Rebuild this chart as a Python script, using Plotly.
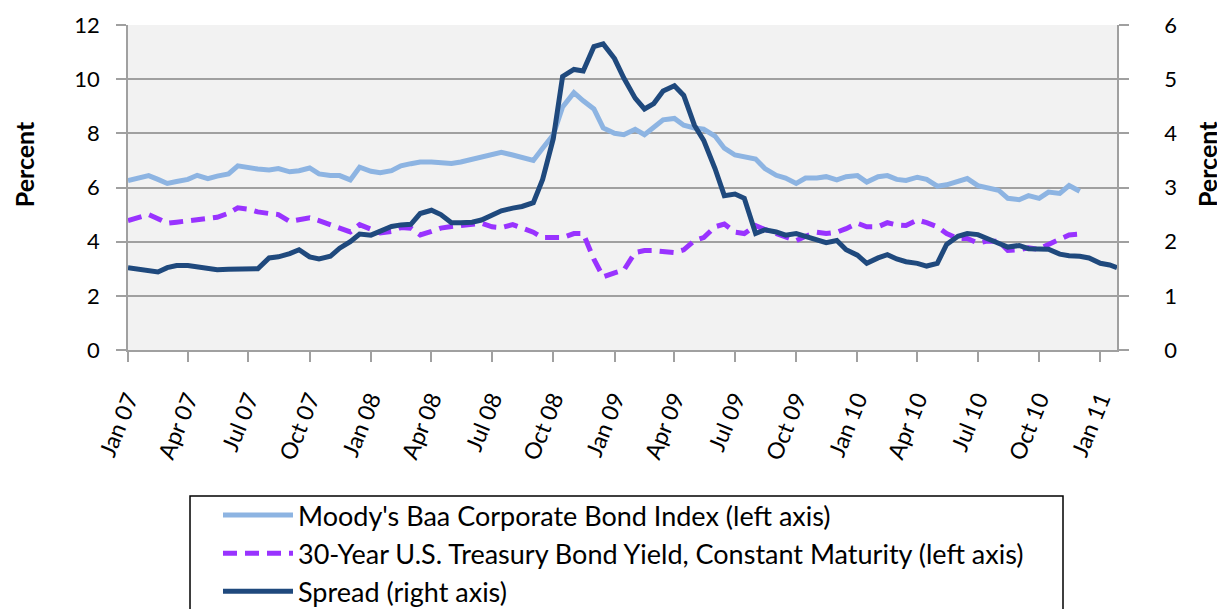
import plotly.graph_objects as go

# semi-monthly observation dates
dates = [
    "2007-01-01", "2007-01-15", "2007-02-01", "2007-02-15", "2007-03-01", "2007-03-15",
    "2007-04-01", "2007-04-15", "2007-05-01", "2007-05-15", "2007-06-01", "2007-06-15",
    "2007-07-01", "2007-07-15", "2007-08-01", "2007-08-15", "2007-09-01", "2007-09-15",
    "2007-10-01", "2007-10-15", "2007-11-01", "2007-11-15", "2007-12-01", "2007-12-15",
    "2008-01-01", "2008-01-15", "2008-02-01", "2008-02-15", "2008-03-01", "2008-03-15",
    "2008-04-01", "2008-04-15", "2008-05-01", "2008-05-15", "2008-06-01", "2008-06-15",
    "2008-07-01", "2008-07-15", "2008-08-01", "2008-08-15", "2008-09-01", "2008-09-15",
    "2008-10-01", "2008-10-15", "2008-11-01", "2008-11-15", "2008-12-01", "2008-12-15",
    "2009-01-01", "2009-01-15", "2009-02-01", "2009-02-15", "2009-03-01", "2009-03-15",
    "2009-04-01", "2009-04-15", "2009-05-01", "2009-05-15", "2009-06-01", "2009-06-15",
    "2009-07-01", "2009-07-15", "2009-08-01", "2009-08-15", "2009-09-01", "2009-09-15",
    "2009-10-01", "2009-10-15", "2009-11-01", "2009-11-15", "2009-12-01", "2009-12-15",
    "2010-01-01", "2010-01-15", "2010-02-01", "2010-02-15", "2010-03-01", "2010-03-15",
    "2010-04-01", "2010-04-15", "2010-05-01", "2010-05-15", "2010-06-01", "2010-06-15",
    "2010-07-01", "2010-07-15", "2010-08-01", "2010-08-15", "2010-09-01", "2010-09-15",
    "2010-10-01", "2010-10-15", "2010-11-01", "2010-11-15", "2010-12-01", "2010-12-15",
    "2011-01-01", "2011-01-15", "2011-01-26",
]

baa = [
    6.26, 6.35, 6.44, 6.30, 6.15, 6.22, 6.30, 6.45, 6.33, 6.42, 6.50, 6.80,
    6.72, 6.68, 6.65, 6.70, 6.58, 6.62, 6.72, 6.50, 6.44, 6.44, 6.28, 6.75,
    6.60, 6.55, 6.62, 6.80, 6.88, 6.94, 6.94, 6.90, 6.89, 6.94, 7.05, 7.12,
    7.20, 7.30, 7.20, 7.12, 7.00, 7.45, 7.95, 8.97, 9.50, 9.20, 8.90, 8.20,
    8.00, 7.95, 8.15, 7.95, 8.20, 8.50, 8.55, 8.30, 8.20, 8.15, 7.90, 7.45,
    7.20, 7.15, 7.05, 6.70, 6.45, 6.35, 6.15, 6.35, 6.35, 6.40, 6.28, 6.40,
    6.44, 6.20, 6.40, 6.44, 6.30, 6.26, 6.38, 6.30, 6.05, 6.10, 6.25, 6.33,
    6.07, 6.00, 5.90, 5.60, 5.55, 5.70, 5.60, 5.83, 5.78, 6.07, 5.86, None,
    None, None, None,
]

treasury = [
    4.78, 4.90, 5.00, 4.85, 4.68, 4.72, 4.78, 4.82, 4.85, 4.90, 5.05, 5.25,
    5.20, 5.10, 5.04, 5.00, 4.75, 4.82, 4.88, 4.78, 4.63, 4.50, 4.36, 4.63,
    4.45, 4.32, 4.38, 4.52, 4.50, 4.25, 4.38, 4.50, 4.56, 4.59, 4.65, 4.68,
    4.55, 4.52, 4.63, 4.50, 4.35, 4.15, 4.15, 4.15, 4.30, 4.30, 3.35, 2.70,
    2.85, 2.95, 3.60, 3.67, 3.67, 3.65, 3.60, 3.70, 4.04, 4.15, 4.55, 4.65,
    4.35, 4.30, 4.59, 4.45, 4.30, 4.18, 4.04, 4.20, 4.35, 4.30, 4.35, 4.48,
    4.68, 4.55, 4.55, 4.70, 4.62, 4.60, 4.80, 4.70, 4.55, 4.30, 4.12, 4.12,
    3.95, 4.02, 4.02, 3.68, 3.70, 3.77, 3.72, 3.90, 4.08, 4.25, 4.28, None,
    None, None, None,
]

spread = [
    1.52, 1.49, 1.47, 1.44, 1.52, 1.56, 1.56, 1.53, 1.51, 1.48, 1.49, 1.50,
    1.49, 1.50, 1.70, 1.72, 1.78, 1.85, 1.72, 1.68, 1.73, 1.88, 2.00, 2.14,
    2.12, 2.20, 2.28, 2.31, 2.32, 2.52, 2.58, 2.50, 2.35, 2.35, 2.36, 2.40,
    2.50, 2.57, 2.62, 2.65, 2.72, 3.15, 3.90, 5.05, 5.18, 5.15, 5.60, 5.65,
    5.38, 5.02, 4.65, 4.45, 4.55, 4.78, 4.88, 4.70, 4.15, 3.87, 3.35, 2.85,
    2.88, 2.80, 2.15, 2.22, 2.18, 2.12, 2.15, 2.10, 2.03, 1.98, 2.02, 1.85,
    1.75, 1.60, 1.70, 1.76, 1.68, 1.63, 1.60, 1.55, 1.60, 1.95, 2.10, 2.15,
    2.13, 2.05, 1.97, 1.90, 1.93, 1.87, 1.87, 1.86, 1.77, 1.74, 1.73, 1.70,
    1.60, 1.57, 1.52,
]

tick_dates = [
    "2007-01-01", "2007-04-01", "2007-07-01", "2007-10-01",
    "2008-01-01", "2008-04-01", "2008-07-01", "2008-10-01",
    "2009-01-01", "2009-04-01", "2009-07-01", "2009-10-01",
    "2010-01-01", "2010-04-01", "2010-07-01", "2010-10-01",
    "2011-01-01",
]
tick_labels = [
    "Jan 07", "Apr 07", "Jul 07", "Oct 07",
    "Jan 08", "Apr 08", "Jul 08", "Oct 08",
    "Jan 09", "Apr 09", "Jul 09", "Oct 09",
    "Jan 10", "Apr 10", "Jul 10", "Oct 10",
    "Jan 11",
]

FONT = "Lato"
GRID = "#A0A0A0"

fig = go.Figure()

fig.add_trace(go.Scatter(
    x=dates, y=baa, mode="lines", yaxis="y",
    name="Moody's Baa Corporate Bond Index (left axis)",
    legendgroup="a",
    line=dict(color="#8DB4E2", width=5),
))
fig.add_trace(go.Scatter(
    x=dates, y=treasury, mode="lines", yaxis="y",
    name="30-Year U.S. Treasury Bond Yield, Constant Maturity (left axis)",
    legendgroup="b",
    line=dict(color="#9933FF", width=5, dash="14px,8px"),
))
fig.add_trace(go.Scatter(
    x=dates, y=spread, mode="lines", yaxis="y2",
    name="Spread (right axis)",
    legendgroup="c",
    line=dict(color="#1F497D", width=5),
))

# the page body adds an 8px offset, so the figure is a little smaller
fig.update_layout(
    width=1217, height=601,
    margin=dict(l=120, r=108, t=17, b=259, autoexpand=False),
    paper_bgcolor="white",
    plot_bgcolor="#F2F2F2",
    font=dict(family=FONT, size=22, color="black"),
    showlegend=True,
    legend=dict(
        x=0.091, y=-0.434, xanchor="left", yanchor="top",
        bgcolor="rgba(0,0,0,0)", borderwidth=0,
        font=dict(family=FONT, size=27, color="black"),
        itemwidth=70,
        tracegroupgap=3,
        traceorder="normal",
    ),
    xaxis=dict(
        type="date",
        range=["2007-01-01", "2011-01-26"],
        tickmode="array", tickvals=tick_dates, ticktext=tick_labels,
        tickangle=-68,
        ticks="outside", ticklen=10, tickcolor=GRID, tickwidth=1.5,
        showline=True, linecolor=GRID, linewidth=1.5,
        showgrid=False, zeroline=False,
        ticklabelstandoff=15,
        tickfont=dict(family=FONT, size=23),
    ),
    yaxis=dict(
        range=[0, 12], dtick=2, tick0=0,
        ticks="outside", ticklen=10, tickcolor=GRID, tickwidth=1.5,
        showline=True, linecolor=GRID, linewidth=1.5,
        showgrid=True, gridcolor=GRID, gridwidth=1.5,
        zeroline=False,
        ticklabelstandoff=12,
        tickfont=dict(family=FONT, size=22),
    ),
    yaxis2=dict(
        range=[0, 6], dtick=1, tick0=0,
        overlaying="y", side="right",
        ticks="outside", ticklen=10, tickcolor=GRID, tickwidth=1.5,
        showline=True, linecolor=GRID, linewidth=1.5,
        showgrid=False, zeroline=False,
        ticklabelstandoff=31,
        tickfont=dict(family=FONT, size=22),
    ),
    shapes=[
        # legend frame, running off the bottom of the picture as in the original
        dict(type="rect", xref="paper", yref="paper",
             x0=0.0627, x1=0.9454, y0=-0.449, y1=-0.95,
             line=dict(color="black", width=1.5), fillcolor="white", layer="below"),
    ],
    annotations=[
        dict(text="<b>Percent</b>", x=-0.105, y=0.572, xref="paper", yref="paper",
             textangle=-90, showarrow=False, font=dict(family=FONT, size=25),
             xanchor="center", yanchor="middle"),
        dict(text="<b>Percent</b>", x=1.091, y=0.572, xref="paper", yref="paper",
             textangle=-90, showarrow=False, font=dict(family=FONT, size=25),
             xanchor="center", yanchor="middle"),
    ],
)

fig.write_html("out.html")
